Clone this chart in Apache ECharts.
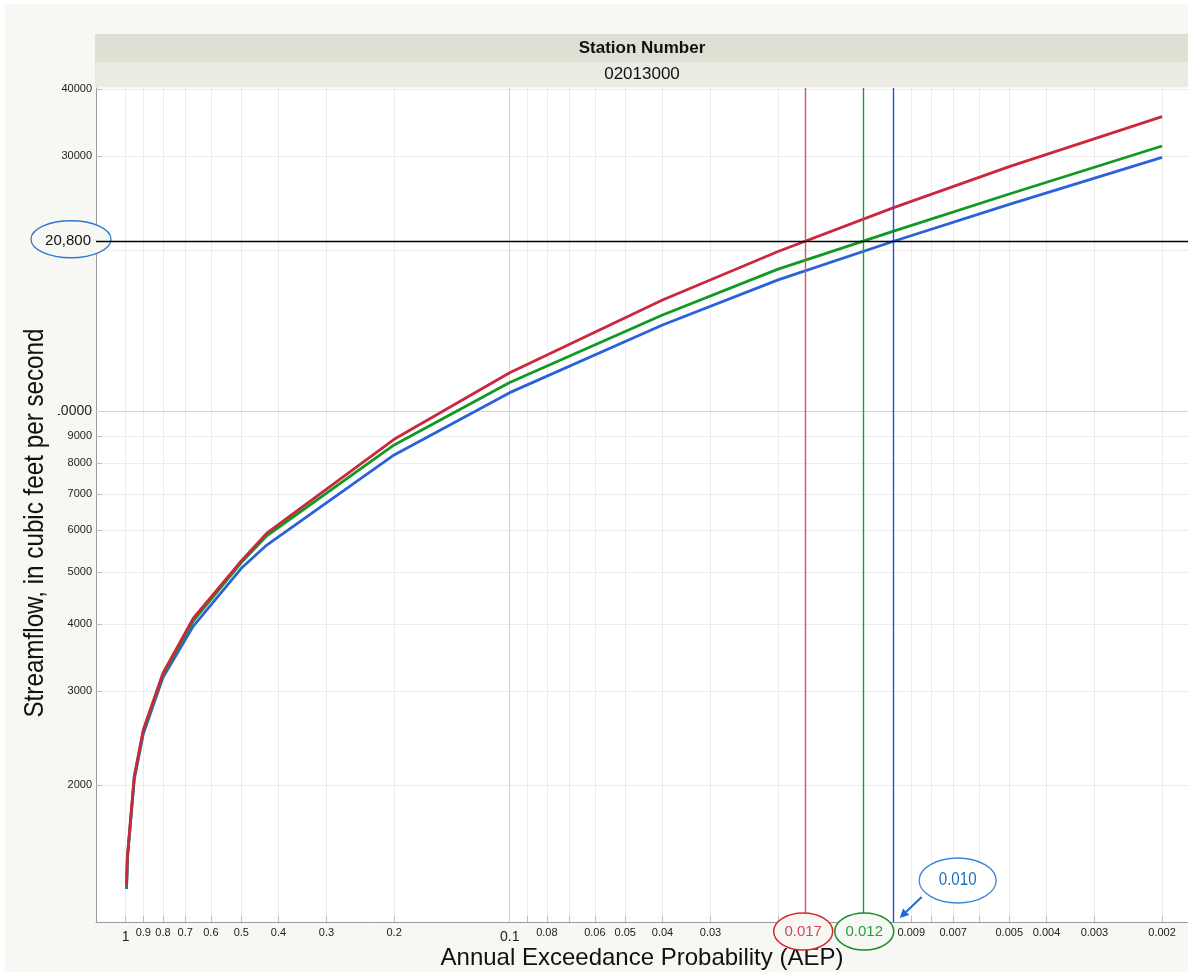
<!DOCTYPE html>
<html>
<head>
<meta charset="utf-8">
<title>Flood frequency curves, station 02013000</title>
<script src="https://cdn.jsdelivr.net/npm/echarts@6/dist/echarts.min.js"></script>
<style>
  html, body { margin: 0; padding: 0; background: #ffffff; }
  #chart { width: 1188px; height: 972px; }
</style>
</head>
<body>
<div id="chart"></div>
<script>
// Annual exceedance probabilities at which the frequency curves are tabulated
const aep = [0.995, 0.99, 0.95, 0.9, 0.8, 0.6667, 0.5, 0.4292, 0.2, 0.1, 0.04, 0.02, 0.01, 0.005, 0.002];

// Peak streamflow quantiles, cubic feet per second
const flowRed   = [1300, 1475, 2080, 2540, 3240, 4105, 5255, 5920, 8870, 11810, 16150, 19900, 24040, 28670, 35550];
const flowGreen = [1290, 1465, 2070, 2525, 3215, 4060, 5215, 5855, 8655, 11320, 15140, 18450, 21720, 25490, 31340];
const flowBlue  = [1280, 1455, 2050, 2495, 3180, 3970, 5090, 5625, 8290, 10840, 14505, 17610, 20800, 24380, 29850];

// Design streamflow and the AEP at which each curve reaches it (red, green, blue)
const designFlow = 20800;
const designFlowLabel = '20,800';
const crossingAEP = [0.017, 0.012, 0.010];
const crossingLabels = ['0.017', '0.012', '0.010'];

// Axis ticks and labels
const xTicks = [1, 0.9, 0.8, 0.7, 0.6, 0.5, 0.4, 0.3, 0.2, 0.1, 0.09, 0.08, 0.07, 0.06, 0.05, 0.04, 0.03, 0.02,
                0.01, 0.009, 0.008, 0.007, 0.006, 0.005, 0.004, 0.003, 0.002];
const xLabels = [1, 0.9, 0.8, 0.7, 0.6, 0.5, 0.4, 0.3, 0.2, 0.1, 0.08, 0.06, 0.05, 0.04, 0.03,
                 0.009, 0.007, 0.005, 0.004, 0.003, 0.002];
const yTicks = [2000, 3000, 4000, 5000, 6000, 7000, 8000, 9000, 10000, 20000, 20800, 30000, 40000];
const yLabels = [2000, 3000, 4000, 5000, 6000, 7000, 8000, 9000, 10000, 30000, 40000];

// Axis extents
const xMin = 0.001712, xMax = 1.195;
const yMin = 1110.6, yMax = 40225;

const stationTitle = 'Station Number';
const stationId = '02013000';
const xTitle = 'Annual Exceedance Probability (AEP)';
const yTitle = 'Streamflow, in cubic feet per second';

const curveColors = ['#c9283f', '#109a22', '#2b62d9'];
const guideColors = ['#db4f6a', '#1f9e30', '#2352d2'];
const ovalColors  = ['#d9262b', '#1a8c2c', '#3a86d8'];
const ovalText    = ['#d6455e', '#27a03a', '#1e6cc4'];
const BG = '#f7f7f3';
const FONT = '"Liberation Sans", Arial, Helvetica, sans-serif';

const isPow10 = t => Math.abs(Math.log10(t) - Math.round(Math.log10(t))) < 1e-9;
function matchTick(list, v) {
  for (const cand of [v, Math.pow(10, v)]) {
    if (!(cand > 0)) continue;
    const hit = list.find(t => Math.abs(Math.log10(t) - Math.log10(cand)) < 1e-6);
    if (hit !== undefined) return hit;
  }
  return null;
}
function tickText(list, v) {
  const t = matchTick(list, v);
  if (t === null) return '';
  return isPow10(t) ? '{big|' + String(t) + '}' : String(t);
}

const pairs = flows => aep.map((p, i) => [p, flows[i]]);

const grid = { left: 96, top: 88, right: 0, bottom: 50 };

const chart = echarts.init(document.getElementById('chart'), null, { renderer: 'canvas' });

chart.setOption({
  animation: false,
  backgroundColor: BG,
  textStyle: { fontFamily: FONT },
  grid: {
    left: grid.left, top: grid.top, right: grid.right, bottom: grid.bottom,
    show: true, backgroundColor: '#ffffff', borderWidth: 0,
    outerBoundsMode: 'none', containLabel: false
  },
  xAxis: {
    type: 'log', logBase: 10, inverse: true, min: xMin, max: xMax,
    axisLine: { show: true, lineStyle: { color: '#9a9a9a', width: 1 } },
    axisTick: { show: true, inside: true, length: 6, customValues: xTicks, lineStyle: { color: '#bdbdbd' } },
    axisLabel: {
      show: true, customValues: xLabels, margin: 5, fontSize: 11, color: '#222', fontFamily: FONT,
      formatter: v => tickText(xLabels, v),
      rich: { big: { fontSize: 14, color: '#222', fontFamily: FONT, padding: [3, 0, 0, 0] } }
    },
    splitLine: { show: true, lineStyle: { color: '#ececec', width: 1 } }
  },
  yAxis: {
    type: 'log', logBase: 10, min: yMin, max: yMax,
    axisLine: { show: true, lineStyle: { color: '#9a9a9a', width: 1 } },
    axisTick: { show: true, inside: true, length: 6, customValues: yTicks, lineStyle: { color: '#bdbdbd' } },
    axisLabel: {
      show: true, customValues: yLabels, margin: 4, fontSize: 11, color: '#222', fontFamily: FONT,
      formatter: v => tickText(yLabels, v),
      rich: { big: { fontSize: 14, color: '#222', fontFamily: FONT } }
    },
    splitLine: { show: true, lineStyle: { color: '#ececec', width: 1 } }
  },
  series: [
    { name: 'blue', type: 'line', data: pairs(flowBlue), showSymbol: false, z: 3,
      lineStyle: { color: curveColors[2], width: 2.8 } },
    { name: 'green', type: 'line', data: pairs(flowGreen), showSymbol: false, z: 3,
      lineStyle: { color: curveColors[1], width: 2.8 } },
    { name: 'red', type: 'line', data: pairs(flowRed), showSymbol: false, z: 3,
      lineStyle: { color: curveColors[0], width: 2.8 } },
    // darker decade grid lines
    { name: 'decades', type: 'line', data: [], silent: true,
      markLine: { silent: true, symbol: 'none', z: 1, precision: 6, animation: false, label: { show: false },
        lineStyle: { color: '#d4d4d4', width: 1, type: 'solid' },
        data: [{ xAxis: 0.1 }, { yAxis: 10000 }] } },
    // AEP of the design flow on each curve
    { name: 'crossings', type: 'line', data: [], silent: true,
      markLine: { silent: true, symbol: 'none', z: 4, precision: 6, animation: false, label: { show: false },
        data: crossingAEP.map((p, i) => ({ xAxis: p, lineStyle: { color: guideColors[i], width: 1.4, type: 'solid' } })) } },
    // design flow
    { name: 'design', type: 'line', data: [], silent: true,
      markLine: { silent: true, symbol: 'none', z: 60, precision: 6, animation: false, label: { show: false },
        lineStyle: { color: '#000000', width: 1.4, type: 'solid' },
        data: [{ yAxis: designFlow }] } }
  ]
});

// Annotations placed through the axes' own scales
function annotate() {
  const pt = (p, q) => chart.convertToPixel({ xAxisIndex: 0, yAxisIndex: 0 }, [p, q]);
  const axisY = pt(1, yMin)[1];
  const plotLeft = pt(xMax, yMin)[0];
  const plotRight = pt(xMin, yMin)[0];
  const cx = crossingAEP.map(p => pt(p, designFlow)[0]);
  const yDesign = pt(1, designFlow)[1];
  const midX = (plotLeft + plotRight) / 2;

  const els = [
    // page margin
    { type: 'rect', z: 0, shape: { x: 0, y: 0, width: 1188, height: 4 }, style: { fill: '#ffffff' } },
    { type: 'rect', z: 0, shape: { x: 0, y: 0, width: 5, height: 972 }, style: { fill: '#ffffff' } },
    // header bands
    { type: 'rect', z: 1, shape: { x: plotLeft - 1, y: 34, width: plotRight - plotLeft + 1, height: 28 }, style: { fill: '#e0dfd4' } },
    { type: 'rect', z: 1, shape: { x: plotLeft - 1, y: 62, width: plotRight - plotLeft + 1, height: 25 }, style: { fill: '#ebebe4' } },
    { type: 'text', z: 2, x: midX, y: 48,
      style: { text: stationTitle, font: 'bold 17px ' + FONT, fill: '#111', align: 'center', verticalAlign: 'middle' } },
    { type: 'text', z: 2, x: midX, y: 74,
      style: { text: stationId, font: '17px ' + FONT, fill: '#111', align: 'center', verticalAlign: 'middle' } },
    // axis titles
    { type: 'text', z: 50, x: midX, y: 958,
      style: { text: xTitle, font: '24px ' + FONT, fill: '#111', align: 'center', verticalAlign: 'middle' } },
    { type: 'text', z: 50, x: 35, y: 523, rotation: Math.PI / 2, scaleX: 0.865,
      style: { text: yTitle, font: '28px ' + FONT, fill: '#111', align: 'center', verticalAlign: 'middle',
               backgroundColor: BG, padding: [2, 12, 16, 12] } }
  ];

  // ovals on the AEP axis for the red and green crossings
  [0, 1].forEach(i => {
    const ex = cx[i] + (i === 0 ? -2 : 1);
    els.push({ type: 'ellipse', z: 50, shape: { cx: ex, cy: axisY + 9.5, rx: 29.5, ry: 18.5 },
      style: { fill: BG, stroke: ovalColors[i], lineWidth: 1.5 } });
    els.push({ type: 'text', z: 51, x: ex, y: axisY + 10,
      style: { text: crossingLabels[i], font: '15px ' + FONT, fill: ovalText[i], align: 'center', verticalAlign: 'middle' } });
  });

  // callout for the blue crossing
  const bx = cx[2] + 64, by = axisY - 41.5;
  els.push({ type: 'ellipse', z: 50, shape: { cx: bx, cy: by, rx: 38.5, ry: 22.5 },
    style: { fill: '#ffffff', stroke: ovalColors[2], lineWidth: 1.3 } });
  els.push({ type: 'text', z: 51, x: bx, y: by, scaleX: 0.84,
    style: { text: crossingLabels[2], font: '18px ' + FONT, fill: ovalText[2], align: 'center', verticalAlign: 'middle' } });
  const tipX = cx[2] + 6, tipY = axisY - 4;
  const tailX = tipX + 22, tailY = tipY - 21;
  const ang = Math.atan2(tipY - tailY, tipX - tailX);
  const hl = 9, hw = 4.5;
  const baseX = tipX - hl * Math.cos(ang), baseY = tipY - hl * Math.sin(ang);
  els.push({ type: 'line', z: 50, shape: { x1: tailX, y1: tailY, x2: baseX, y2: baseY },
    style: { stroke: '#1f6bd0', lineWidth: 2 } });
  els.push({ type: 'polygon', z: 50, shape: { points: [
      [tipX, tipY],
      [baseX + hw * Math.sin(ang), baseY - hw * Math.cos(ang)],
      [baseX - hw * Math.sin(ang), baseY + hw * Math.cos(ang)] ] },
    style: { fill: '#1f6bd0' } });

  // design flow label on the streamflow axis
  els.push({ type: 'ellipse', z: 50, shape: { cx: plotLeft - 25, cy: yDesign - 2, rx: 40, ry: 18.5 },
    style: { fill: BG, stroke: '#2c78d2', lineWidth: 1.3 } });
  els.push({ type: 'text', z: 51, x: plotLeft - 5, y: yDesign,
    style: { text: designFlowLabel, font: '15px ' + FONT, fill: '#111', align: 'right', verticalAlign: 'middle' } });

  chart.setOption({ graphic: { elements: els } });
}
annotate();
</script>
</body>
</html>
